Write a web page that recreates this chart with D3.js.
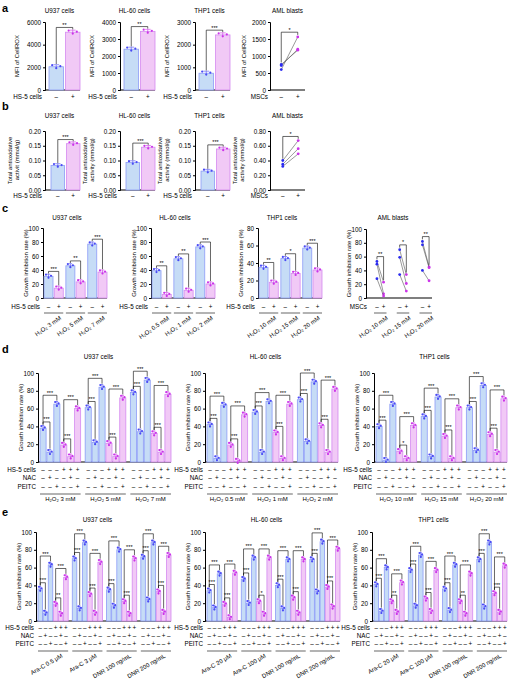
<!DOCTYPE html>
<html><head><meta charset="utf-8">
<script src="https://cdn.jsdelivr.net/npm/d3@7"></script>
<style>body{margin:0;background:#fff}text{font-family:"Liberation Sans",Arial,sans-serif}</style>
</head><body><svg id="c" width="514" height="685"></svg>
<script>
// ---- data ----
var aU937 = [2050, 5100], aHL60 = [2400, 3450], aTHP1 = [740, 2430];
var aAMLBlue = [600, 720, 750], aAMLPink = [1560, 1200, 1170];
var bU937 = [0.083, 0.157], bHL60 = [0.093, 0.145], bTHP1 = [0.064, 0.139];
var bAMLBlue = [0.40, 0.35, 0.32], bAMLPink = [0.67, 0.56, 0.49];
var cU937 = [[31, 14], [46, 23], [77, 37]];
var cHL60 = [[39, 5], [56, 11], [73, 20]];
var cTHP1 = [[35, 18], [45, 28], [57, 32]];
var cAMLBlue = [[53, 49, 28], [70, 59, 34], [82, 77, 40]];
var cAMLPink = [[23, 6, 3], [34, 21, 10], [45, 44, 25]];
var cLabU937 = ["H₂O₂ 3 mM", "H₂O₂ 5 mM", "H₂O₂ 7 mM"];
var cLabHL60 = ["H₂O₂ 0.5 mM", "H₂O₂ 1 mM", "H₂O₂ 2 mM"];
var cLabTHP1 = ["H₂O₂ 10 mM", "H₂O₂ 15 mM", "H₂O₂ 20 mM"];
var dU937 = [[38, 11, 65, 19, 6, 60], [61, 22, 84, 21, 6, 72], [78, 34, 92, 32, 11, 76]];
var dHL60 = [[42, 4, 64, 19, 1, 53], [56, 11, 68, 33, 4, 65], [70, 23, 90, 41, 11, 82]];
var dTHP1 = [[40, 2, 65, 12, 4, 41], [51, 6, 73, 29, 4, 61], [61, 13, 86, 31, 11, 71]];
var eU937 = [[36, 9, 63, 19, 8, 49], [70, 14, 88, 30, 9, 66], [35, 17, 80, 22, 8, 70], [72, 24, 88, 33, 10, 74]];
var eHL60 = [[34, 15, 53, 19, 4, 54], [47, 20, 71, 22, 8, 71], [40, 14, 69, 26, 9, 69], [69, 33, 89, 38, 16, 81]];
var eTHP1 = [[41, 11, 60, 22, 10, 43], [57, 17, 74, 25, 11, 57], [36, 12, 63, 22, 8, 53], [69, 16, 88, 31, 10, 62]];
var eLabU937 = ["Ara-C 0.5 μM", "Ara-C 3 μM", "DNR 100 ng/mL", "DNR 200 ng/mL"];
var eLabOther = ["Ara-C 20 μM", "Ara-C 100 μM", "DNR 100 ng/mL", "DNR 200 ng/mL"];
var hs5Signs = ["-", "-", "-", "+", "+", "+"], nacSigns = ["-", "+", "-", "-", "+", "-"], peitcSigns = ["-", "-", "+", "-", "-", "+"];
var colorOrder6 = ["b", "b", "b", "p", "p", "p"];

var svg = d3.select("#c");
var COL = { b: { fill: "#c6dcf6", stroke: "#8d9cf7", dot: "#4a4af5" }, p: { fill: "#f1c9f6", stroke: "#d58af0", dot: "#cc33ea" } };
var jit = [0.012, -0.01, 0.004];

function txt(x, y, s, size, anchor, extra) {
	var t = svg.append("text").attr("x", x).attr("y", y).attr("font-size", size).attr("text-anchor", anchor || "middle").text(s);
	if (extra) extra(t);
	return t;
}

// generic bar / paired panel
function panel(c) {
	var y = d3.scaleLinear().domain([0, c.max]).range([c.yB, c.yT]);
	var g = svg.append("g");
	g.append("g").attr("transform", "translate(" + c.x0 + ",0)")
		.call(d3.axisLeft(y).tickValues(c.ticks).tickSize(2).tickFormat(c.fmt || d3.format("d")))
		.call(function (a) { a.selectAll("text").attr("font-size", 6.3).attr("font-family", "Liberation Sans").attr("dx", 1); a.selectAll("line,path").attr("stroke", "#000"); });
	g.append("line").attr("x1", c.x0).attr("x2", c.x1).attr("y1", c.yB).attr("y2", c.yB).attr("stroke", "#000").attr("stroke-width", 1.2);
	txt((c.x0 + c.x1) / 2 + (c.titleDx || 0), c.titleY, c.title, 6.3);
	txt(0, 0, c.ylab, 6, "middle", function (t) { t.attr("transform", "translate(" + (c.x0 - c.ylabOff) + "," + ((c.yT + c.yB) / 2) + ") rotate(-90)"); });
	var n = c.nGroups;
	var gx = d3.scaleBand().domain(d3.range(n)).range([c.x0 + c.padL, c.x1]).paddingInner(c.gPad);
	var nb = c.nBars;
	var bx = d3.scaleBand().domain(d3.range(nb)).range([0, gx.bandwidth()]).paddingInner(0.12);
	var cx = function (gi, bi) { return gx(gi) + bx(bi) + bx.bandwidth() / 2; };
	if (c.groups) {
		c.groups.forEach(function (vals, gi) {
			vals.forEach(function (v, bi) {
				var col = COL[c.colors[bi]], bw = bx.bandwidth(), x = gx(gi) + bx(bi);
				g.append("rect").attr("x", x).attr("y", y(v)).attr("width", bw).attr("height", c.yB - y(v))
					.attr("fill", col.fill).attr("stroke", col.stroke).attr("stroke-width", 0.8);
				var sd = c.max * 0.03;
				g.append("line").attr("x1", x + bw / 2).attr("x2", x + bw / 2).attr("y1", y(Math.max(0, v - sd))).attr("y2", y(v + sd)).attr("stroke", col.dot).attr("stroke-width", 0.6);
				g.append("line").attr("x1", x + bw * 0.3).attr("x2", x + bw * 0.7).attr("y1", y(v + sd)).attr("y2", y(v + sd)).attr("stroke", col.dot).attr("stroke-width", 0.6);
				[-1, 0, 1].forEach(function (d, k) {
					g.append("circle").attr("cx", x + bw / 2 + d * bw * 0.28).attr("cy", y(v + jit[k] * c.max * 2)).attr("r", 1.1).attr("fill", col.dot);
				});
			});
		});
		(c.sig || []).forEach(function (s) {
			var gi = s[0], i = s[1], j = s[2], vals = c.groups[gi];
			var top = d3.max(vals.slice(i, j + 1)) + c.max * (j - i > 1 ? 0.1 : 0.07);
			var x1 = cx(gi, i), x2 = cx(gi, j);
			g.append("path").attr("fill", "none").attr("stroke", "#000").attr("stroke-width", 0.6)
				.attr("d", "M" + x1 + "," + y(vals[i] + c.max * 0.04) + "V" + y(top) + "H" + x2 + "V" + y(vals[j] + c.max * 0.04));
			txt((x1 + x2) / 2, y(top) - 0.5, s[3], 5.5);
		});
	}
	if (c.pairedB) {
		c.pairedB.forEach(function (bl, gi) {
			var xb = cx(gi, 0), xp = cx(gi, 1), pk = c.pairedP[gi];
			bl.forEach(function (v, k) {
				g.append("line").attr("x1", xb).attr("x2", xp).attr("y1", y(v)).attr("y2", y(pk[k])).attr("stroke", "#555").attr("stroke-width", 0.6);
				g.append("circle").attr("cx", xb).attr("cy", y(v)).attr("r", 1.4).attr("fill", "#2a2af0");
				g.append("circle").attr("cx", xp).attr("cy", y(pk[k])).attr("r", 1.4).attr("fill", "#cc33ea");
			});
			var top = Math.max(d3.max(bl), d3.max(pk)) + c.max * 0.07;
			g.append("path").attr("fill", "none").attr("stroke", "#000").attr("stroke-width", 0.6)
				.attr("d", "M" + xb + "," + y(d3.max(bl) + c.max * 0.03) + "V" + y(top) + "H" + xp + "V" + y(d3.max(pk) + c.max * 0.03));
			txt((xb + xp) / 2, y(top) - 0.5, c.pairedSig[gi], 5.5);
		});
	}
	// sign rows
	c.rows.forEach(function (r, ri) {
		var ry = c.rowY[ri];
		txt(c.rowX, ry, r.name, 6.3, "end");
		for (var gi = 0; gi < n; gi++) r.signs.forEach(function (s, bi) { txt(cx(gi, bi), ry, s === "-" ? "–" : "+", 6.3); });
	});
	if (c.groupLabels) {
		c.groupLabels.forEach(function (lab, gi) {
			g.append("line").attr("x1", gx(gi)).attr("x2", gx(gi) + gx.bandwidth()).attr("y1", c.ulY).attr("y2", c.ulY).attr("stroke", "#000").attr("stroke-width", 0.6);
			var mx = gx(gi) + gx.bandwidth() / 2;
			if (c.rot) txt(0, 0, lab, 6, "end", function (t) { t.attr("transform", "translate(" + (mx + c.rotDx) + "," + (c.ulY + 6) + ") rotate(" + c.rot + ")"); });
			else txt(mx, c.ulY + 7, lab, 6);
		});
	}
}

// panel labels
[["a", 12], ["b", 110], ["c", 212], ["d", 353], ["e", 516]].forEach(function (p) {
	txt(2, p[1], p[0], 11, "start", function (t) { t.attr("font-weight", "bold"); });
});

var hs = { name: "HS-5 cells", signs: ["-", "+"] }, ms = { name: "MSCs", signs: ["-", "+"] };
// a
var aCfg = [[45, aU937, 6000, [0, 2000, 4000, 6000], "U937 cells", "**"], [120, aHL60, 4000, [0, 1000, 2000, 3000, 4000], "HL-60 cells", "**"], [195, aTHP1, 3000, [0, 1000, 2000, 3000], "THP1 cells", "***"]];
aCfg.forEach(function (p) {
	panel({ x0: p[0], x1: p[0] + 35, yT: 22, yB: 90, max: p[2], ticks: p[3], title: p[4], titleY: 13, titleDx: -3, ylab: "MFI of CellROX", ylabOff: 26,
		nGroups: 1, nBars: 2, padL: 4, gPad: 0, groups: [p[1]], colors: ["b", "p"], sig: [[0, 0, 1, p[5]]], rows: [hs], rowY: [99], rowX: p[0] - 3 });
});
panel({ x0: 270, x1: 305, yT: 22, yB: 90, max: 2000, ticks: [0, 500, 1000, 1500, 2000], title: "AML blasts", titleY: 13, titleDx: 0, ylab: "MFI of CellROX", ylabOff: 24,
	nGroups: 1, nBars: 2, padL: 4, gPad: 0, pairedB: [aAMLBlue], pairedP: [aAMLPink], pairedSig: ["*"], rows: [ms], rowY: [99], rowX: 268 });
// b
var f2 = d3.format(".2f");
var bCfg = [[45, bU937, "U937 cells", "Total antioxidative", "activit (mmol/g)"], [120, bHL60, "HL-60 cells", "Total antioxidative", "activity (mmol/g)"], [195, bTHP1, "THP1 cells", "Total antioxidative", "activity (mmol/g)"]];
bCfg.forEach(function (p) {
	panel({ x0: p[0], x1: p[0] + 35, yT: 131, yB: 190, max: 0.2, ticks: [0, 0.05, 0.1, 0.15, 0.2], fmt: f2, title: p[2], titleY: 118, titleDx: -3, ylab: p[3], ylabOff: 33,
		nGroups: 1, nBars: 2, padL: 6, gPad: 0, groups: [p[1]], colors: ["b", "p"], sig: [[0, 0, 1, "***"]], rows: [hs], rowY: [198], rowX: p[0] - 3 });
	txt(0, 0, p[4], 6, "middle", function (t) { t.attr("transform", "translate(" + (p[0] - 26) + ",160) rotate(-90)"); });
});
panel({ x0: 270, x1: 305, yT: 131, yB: 190, max: 0.8, ticks: [0, 0.2, 0.4, 0.6, 0.8], fmt: f2, title: "AML blasts", titleY: 118, ylab: "Total antioxidative", ylabOff: 33,
	nGroups: 1, nBars: 2, padL: 6, gPad: 0, pairedB: [bAMLBlue], pairedP: [bAMLPink], pairedSig: ["*"], rows: [ms], rowY: [198], rowX: 268 });
txt(0, 0, "activity (mmol/g)", 6, "middle", function (t) { t.attr("transform", "translate(244,160) rotate(-90)"); });
// c
var cCfg = [[43, cU937, 100, [0, 20, 40, 60, 80, 100], "U937 cells", cLabU937, [["***"], ["**"], ["***"]]],
	[151, cHL60, 100, [0, 20, 40, 60, 80, 100], "HL-60 cells", cLabHL60, [["**"], ["**"], ["***"]]],
	[258, cTHP1, 80, [0, 20, 40, 60, 80], "THP1 cells", cLabTHP1, [["**"], ["*"], ["***"]]]];
cCfg.forEach(function (p) {
	panel({ x0: p[0], x1: p[0] + 64, yT: 228, yB: 298, max: p[2], ticks: p[3], title: p[4], titleY: 220, titleDx: -8, ylab: "Growth inhibition rate (%)", ylabOff: 15,
		nGroups: 3, nBars: 2, padL: 1, gPad: 0.12, groups: p[1], colors: ["b", "p"],
		sig: p[6].map(function (s, i) { return [i, 0, 1, s[0]]; }), rows: [hs], rowY: [309], rowX: p[0] - 3,
		groupLabels: p[5], ulY: 313, rot: -35, rotDx: 8 });
});
panel({ x0: 366, x1: 432, yT: 229, yB: 298, max: 100, ticks: [0, 20, 40, 60, 80, 100], title: "AML blasts", titleY: 220, titleDx: -6, ylab: "Growth inhibition rate (%)", ylabOff: 15,
	nGroups: 3, nBars: 2, padL: 8, gPad: 0.45, pairedB: cAMLBlue, pairedP: cAMLPink, pairedSig: ["**", "*", "**"], rows: [ms], rowY: [309], rowX: 367,
	groupLabels: cLabTHP1, ulY: 313, rot: -35, rotDx: 8 });
// d
var rows3 = [{ name: "HS-5 cells", signs: hs5Signs }, { name: "NAC", signs: nacSigns }, { name: "PEITC", signs: peitcSigns }];
var sigPairs = [[0, 1], [0, 2], [3, 4], [3, 5]];
function sigAll(n, labs) { var out = []; for (var gi = 0; gi < n; gi++) sigPairs.forEach(function (pp, k) { out.push([gi, pp[0], pp[1], (labs && labs[gi] && labs[gi][k]) || "***"]); }); return out; }
var dCfg = [[38, dU937, "U937 cells", ["H₂O₂ 3 mM", "H₂O₂ 5 mM", "H₂O₂ 7 mM"], null],
	[205, dHL60, "HL-60 cells", ["H₂O₂ 0.5 mM", "H₂O₂ 1 mM", "H₂O₂ 2 mM"], null],
	[374, dTHP1, "THP1 cells", ["H₂O₂ 10 mM", "H₂O₂ 15 mM", "H₂O₂ 20 mM"], [["***", "***", "*", "***"]]]];
dCfg.forEach(function (p) {
	panel({ x0: p[0], x1: p[0] + 133, yT: 373, yB: 462, max: 100, ticks: [0, 20, 40, 60, 80, 100], title: p[2], titleY: 359, titleDx: -6, ylab: "Growth inhibition rate (%)", ylabOff: 15,
		nGroups: 3, nBars: 6, padL: 2, gPad: 0.1, groups: p[1], colors: colorOrder6, sig: sigAll(3, p[4]),
		rows: rows3, rowY: [472, 480, 489], rowX: p[0] - 2,
		groupLabels: p[3], ulY: 494, rot: null });
});
// e
var eCfg = [[36, eU937, "U937 cells", eLabU937, [["***", "***", "**", "***"]]],
	[205, eHL60, "HL-60 cells", eLabOther, [null, ["***", "***", "*", "***"]]],
	[372, eTHP1, "THP1 cells", eLabOther, [["***", "***", "**", "***"], null, ["***", "***", "**", "***"]]]];
eCfg.forEach(function (p) {
	panel({ x0: p[0], x1: p[0] + 135, yT: 532, yB: 621, max: 100, ticks: [0, 20, 40, 60, 80, 100], title: p[2], titleY: 522, titleDx: -6, ylab: "Growth inhibition rate (%)", ylabOff: 15,
		nGroups: 4, nBars: 6, padL: 2, gPad: 0.12, groups: p[1], colors: colorOrder6, sig: sigAll(4, p[4]),
		rows: rows3, rowY: [630, 638, 646], rowX: p[0] - 2,
		groupLabels: p[3], ulY: 651, rot: -30, rotDx: 10 });
});
</script></body></html>
